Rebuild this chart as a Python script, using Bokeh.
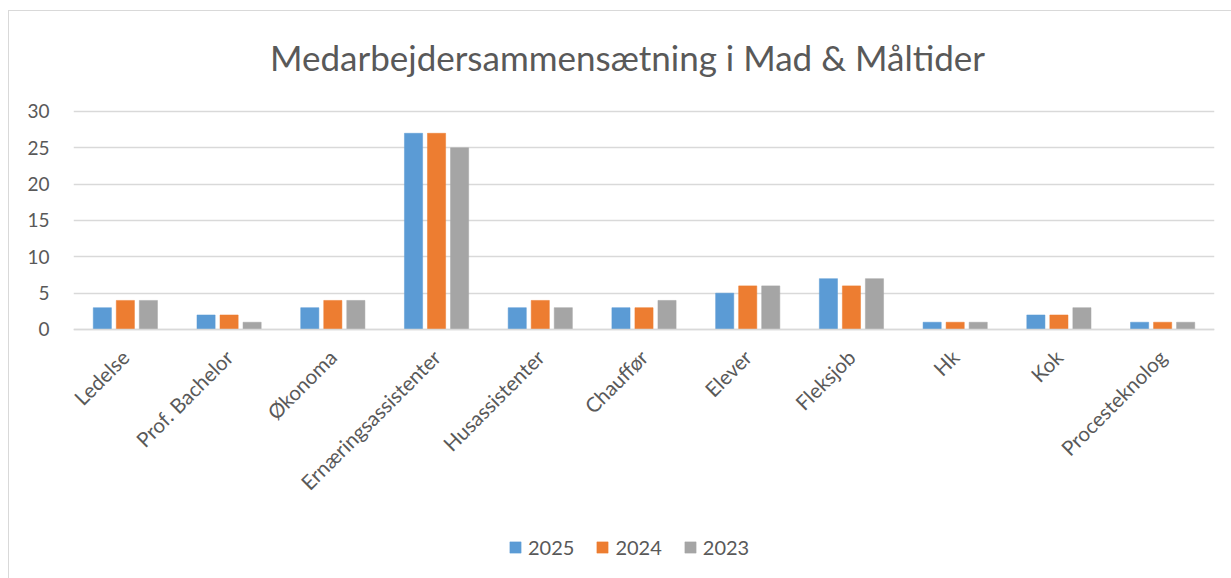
import math
from bokeh.plotting import figure
from bokeh.models import ColumnDataSource, FactorRange, Legend, LegendItem, Range1d, FixedTicker, Label
from bokeh.transform import dodge
from bokeh.embed import file_html
from bokeh.resources import INLINE

categories = ["Ledelse", "Prof. Bachelor", "Økonoma", "Ernæringsassistenter", "Husassistenter",
              "Chauffør", "Elever", "Fleksjob", "Hk", "Kok", "Procesteknolog"]
v2025 = [3, 2, 3, 27, 3, 3, 5, 7, 1, 2, 1]
v2024 = [4, 2, 4, 27, 4, 3, 6, 6, 1, 2, 1]
v2023 = [4, 1, 4, 25, 3, 4, 6, 7, 1, 3, 1]
series = ["2025", "2024", "2023"]
colors = ["#5B9BD5", "#ED7D31", "#A5A5A5"]
y_ticks = [0, 5, 10, 15, 20, 25, 30]
title_text = "Medarbejdersammensætning i Mad & Måltider"

FONT = "Lato"
TXT = "#595959"

source = ColumnDataSource(data=dict(cat=categories, y2025=v2025, y2024=v2024, y2023=v2023))

# frame covers the whole height (title and legend drawn inside); x axis pinned at y=0
p = figure(x_range=FactorRange(*categories), y_range=Range1d(-33.99, 43.76),
           width=1223, height=568, output_backend="svg", toolbar_location=None,
           min_border_left=64, min_border_right=18, min_border_top=0, min_border_bottom=3)
p.styles = {"border-top": "1px solid #d9d9d9", "border-left": "1px solid #d9d9d9",
            "margin-left": "8px", "margin-top": "10px"}

p.outline_line_color = None
p.background_fill_color = "white"
p.border_fill_color = "white"

p.add_layout(Label(x=554, y=520, x_units="screen", y_units="screen", text=title_text,
                   text_align="center", text_baseline="middle", text_font=FONT,
                   text_font_size="35px", text_color=TXT))

step = 0.222
w = 0.175
renderers = []
for i, (s, c) in enumerate(zip(series, colors)):
    r = p.vbar(x=dodge("cat", (i - 1) * step, range=p.x_range), top="y" + s, bottom=0, width=w,
               source=source, fill_color=c, line_color=c, line_width=0.5)
    renderers.append(r)

# axes
p.xaxis.fixed_location = 0
p.xaxis.axis_line_color = "#d9d9d9"
p.xaxis.axis_line_width = 1.5
p.xaxis.major_tick_line_color = None
p.xaxis.minor_tick_line_color = None
p.xaxis.major_label_orientation = math.pi / 4
p.xaxis.major_label_text_font = FONT
p.xaxis.major_label_text_font_size = "20.5px"
p.xaxis.major_label_text_color = TXT
p.xaxis.major_label_standoff = 18

p.yaxis.ticker = FixedTicker(ticks=y_ticks)
p.yaxis.axis_line_color = None
p.yaxis.major_tick_line_color = None
p.yaxis.minor_tick_line_color = None
p.yaxis.major_label_text_font = FONT
p.yaxis.major_label_text_font_size = "19px"
p.yaxis.major_label_text_color = TXT
p.yaxis.major_label_standoff = 18

p.xgrid.grid_line_color = None
p.ygrid.ticker = FixedTicker(ticks=y_ticks)
p.ygrid.grid_line_color = "#d9d9d9"
p.ygrid.grid_line_width = 1.5

legend = Legend(items=[LegendItem(label=s, renderers=[r]) for s, r in zip(series, renderers)],
                orientation="horizontal", location=(435, 17),
                label_text_font=FONT, label_text_font_size="20px", label_text_color=TXT,
                glyph_width=14, glyph_height=14, label_height=20, label_standoff=6, spacing=21,
                padding=0, margin=0, border_line_color=None, background_fill_alpha=0)
p.add_layout(legend, "center")

open("out.html", "w").write(file_html(p, INLINE))
